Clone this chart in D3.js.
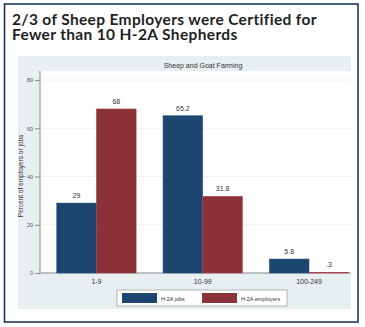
<!DOCTYPE html>
<html><head><meta charset="utf-8">
<script src="https://cdn.jsdelivr.net/npm/d3@7"></script>
<style>
html,body{margin:0;padding:0;background:#fff;}
svg{display:block;}
</style></head>
<body>
<script>
const categories = ["1-9", "10-99", "100-249"];
const seriesNames = ["H-2A jobs", "H-2A employers"];
const jobs = [29, 65.2, 5.8];
const employers = [68, 31.8, 0.3];
const valueLabels = [["29", "65.2", "5.8"], ["68", "31.8", ".3"]];
const yTicks = [0, 20, 40, 60, 80];
const titleLines = ["2/3 of Sheep Employers were Certified for", "Fewer than 10 H-2A Shepherds"];
const stripTitle = "Sheep and Goat Farming";
const yLabel = "Percent of employers or jobs";
const colors = ["#1c4670", "#8b3239"];

const W = 365, H = 327;
const svg = d3.select("body").append("svg").attr("width", W).attr("height", H);

// outer card
svg.append("rect").attr("x", 4.5).attr("y", 4).attr("width", 353.5).attr("height", 318)
  .attr("fill", "#fff").attr("stroke", "#0f2b50").attr("stroke-width", 1.5);

// title
const tt = svg.append("text").attr("x", 12).attr("fill", "#1f1f1f")
  .style("font-family", "Lato, 'Open Sans', sans-serif").style("font-weight", 700)
  .style("font-size", "15.5px").style("letter-spacing", "0.35px");
titleLines.forEach((t, i) => tt.append("tspan").attr("x", 12).attr("y", 24.5 + i * 15.8).text(t));

// graph region background
svg.append("rect").attr("x", 18).attr("y", 56).attr("width", 333).attr("height", 253).attr("fill", "#e8eff1");

const plot = {l: 40, r: 351, t: 71, b: 273};
svg.append("rect").attr("x", plot.l).attr("y", plot.t).attr("width", plot.r - plot.l).attr("height", plot.b - plot.t).attr("fill", "#fff");

// strip title
svg.append("text").attr("x", 203).attr("y", 67.5).attr("text-anchor", "middle")
  .style("font-family", "Arial, 'Liberation Sans', sans-serif").style("font-size", "7px").attr("fill", "#333").text(stripTitle);

const y = d3.scaleLinear().domain([0, 80]).range([273, 80]);
const x = d3.scaleBand().domain(categories).range([plot.l, plot.r]).paddingInner(0.253).paddingOuter(0.0895).align(0.88);
const xs = d3.scaleBand().domain(seriesNames).range([0, x.bandwidth()]);

// gridlines
svg.append("g").selectAll("line").data(yTicks.filter(d => d > 0)).join("line")
  .attr("x1", plot.l).attr("x2", plot.r).attr("y1", d => y(d)).attr("y2", d => y(d))
  .attr("stroke", "#ececec").attr("stroke-width", 0.8);

// y axis
const yAxis = svg.append("g").attr("transform", `translate(${plot.l},0)`)
  .call(d3.axisLeft(y).tickValues(yTicks).tickSize(5).tickPadding(2));
yAxis.select(".domain").attr("stroke", "#8a8a8a").attr("d", `M0,${plot.t}V${plot.b}`);
yAxis.selectAll(".tick line").attr("stroke", "#8a8a8a");
yAxis.selectAll(".tick text").attr("fill", "#555").style("font-family", "Arial, 'Liberation Sans', sans-serif").style("font-size", "5.5px");

// x axis
const xAxis = svg.append("g").attr("transform", `translate(0,${plot.b})`)
  .call(d3.axisBottom(x).tickSize(0).tickPadding(6));
xAxis.select(".domain").attr("stroke", "#8a8a8a").attr("d", `M${plot.l},0H${plot.r}`);
xAxis.selectAll(".tick text").attr("fill", "#333").style("font-family", "Arial, 'Liberation Sans', sans-serif").style("font-size", "7px");

// y label
svg.append("text").attr("transform", `translate(23,176) rotate(-90)`).attr("text-anchor", "middle")
  .style("font-family", "Arial, 'Liberation Sans', sans-serif").style("font-size", "6.5px").attr("fill", "#333").text(yLabel);

// bars
const series = [jobs, employers];
series.forEach((vals, si) => {
  const g = svg.append("g");
  g.selectAll("rect").data(vals).join("rect")
    .attr("x", (d, i) => x(categories[i]) + xs(seriesNames[si]))
    .attr("y", d => y(d)).attr("width", xs.bandwidth()).attr("height", d => y(0) - y(d))
    .attr("fill", colors[si]).attr("stroke", d3.color(colors[si]).brighter(0.6)).attr("stroke-width", 0.5);
  g.selectAll("text").data(vals).join("text")
    .attr("x", (d, i) => x(categories[i]) + xs(seriesNames[si]) + xs.bandwidth() / 2)
    .attr("y", d => y(d) - 5).attr("text-anchor", "middle")
    .style("font-family", "Arial, 'Liberation Sans', sans-serif").style("font-size", "7px").attr("fill", "#333")
    .text((d, i) => valueLabels[si][i]);
});

// legend
const lg = svg.append("g");
lg.append("rect").attr("x", 117).attr("y", 290).attr("width", 170).attr("height", 16).attr("fill", "#fff").attr("stroke", "#888").attr("stroke-width", 0.6);
const legX = [122, 202];
seriesNames.forEach((n, i) => {
  lg.append("rect").attr("x", legX[i]).attr("y", 293).attr("width", 35).attr("height", 10).attr("fill", colors[i]);
  lg.append("text").attr("x", legX[i] + 39).attr("y", 300.5).style("font-family", "Arial, 'Liberation Sans', sans-serif")
    .style("font-size", "5.5px").attr("fill", "#333").text(n);
});
</script>
</body></html>
